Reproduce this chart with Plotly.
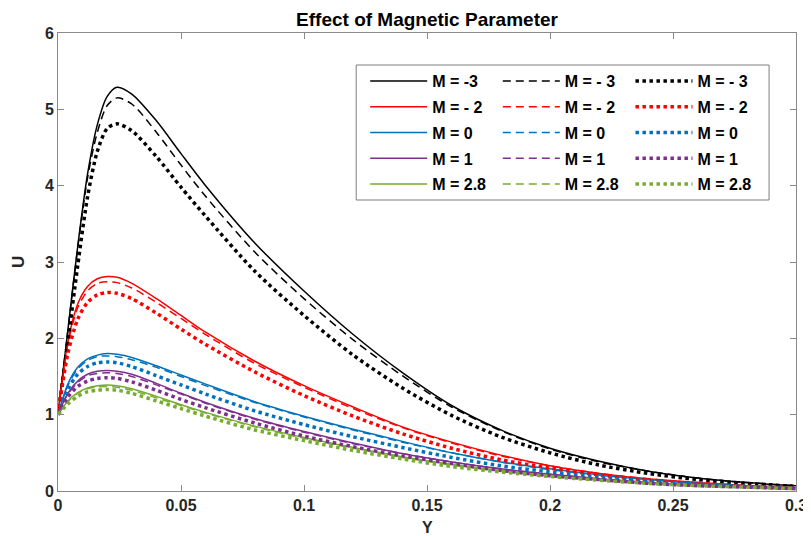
import plotly.graph_objects as go

# x positions (Y) at which the curves were read
Y_POS = [0, 0.004, 0.008, 0.012, 0.016, 0.02, 0.024, 0.03, 0.04, 0.05, 0.06, 0.08, 0.1,
         0.12, 0.14, 0.16, 0.18, 0.2, 0.22, 0.24, 0.26, 0.28, 0.3]

# M = -3
k_solid = [1, 2.1, 3.2, 4.15, 4.8, 5.17, 5.29, 5.2, 4.85, 4.42, 4.0, 3.25, 2.62, 2.05, 1.55, 1.12, 0.8, 0.56, 0.39, 0.26, 0.17, 0.11, 0.07]
k_dash = [1, 2.1, 3.18, 4.1, 4.7, 5.05, 5.15, 5.07, 4.7, 4.27, 3.86, 3.13, 2.52, 1.98, 1.51, 1.1, 0.79, 0.55, 0.38, 0.26, 0.17, 0.11, 0.07]
k_dot = [1, 1.95, 2.95, 3.85, 4.45, 4.75, 4.81, 4.72, 4.38, 3.98, 3.6, 2.88, 2.3, 1.78, 1.35, 0.99, 0.71, 0.5, 0.34, 0.23, 0.15, 0.1, 0.06]
# M = -2
r_solid = [1, 1.95, 2.45, 2.68, 2.78, 2.81, 2.8, 2.72, 2.52, 2.3, 2.08, 1.7, 1.38, 1.1, 0.84, 0.64, 0.47, 0.33, 0.23, 0.16, 0.11, 0.07, 0.045]
r_dash = [1, 1.92, 2.4, 2.62, 2.72, 2.74, 2.73, 2.66, 2.47, 2.26, 2.05, 1.67, 1.36, 1.08, 0.83, 0.63, 0.46, 0.33, 0.23, 0.16, 0.11, 0.07, 0.045]
r_dot = [1, 1.8, 2.25, 2.47, 2.57, 2.6, 2.59, 2.52, 2.33, 2.12, 1.92, 1.56, 1.25, 0.98, 0.75, 0.56, 0.41, 0.3, 0.21, 0.14, 0.1, 0.06, 0.04]
# M = 0
b_solid = [1, 1.4, 1.62, 1.73, 1.78, 1.8, 1.79, 1.75, 1.64, 1.52, 1.4, 1.17, 0.98, 0.81, 0.65, 0.5, 0.38, 0.29, 0.21, 0.15, 0.1, 0.065, 0.04]
b_dash = [1, 1.38, 1.6, 1.71, 1.76, 1.77, 1.76, 1.72, 1.62, 1.5, 1.38, 1.16, 0.97, 0.8, 0.64, 0.5, 0.38, 0.28, 0.21, 0.15, 0.1, 0.065, 0.04]
b_dot = [1, 1.33, 1.53, 1.63, 1.68, 1.69, 1.68, 1.63, 1.51, 1.39, 1.27, 1.05, 0.87, 0.71, 0.57, 0.44, 0.33, 0.25, 0.18, 0.13, 0.09, 0.06, 0.035]
# M = 1
p_solid = [1, 1.28, 1.44, 1.53, 1.57, 1.58, 1.57, 1.53, 1.41, 1.28, 1.16, 0.95, 0.78, 0.63, 0.49, 0.38, 0.29, 0.22, 0.16, 0.11, 0.08, 0.05, 0.03]
p_dash = [1, 1.27, 1.42, 1.51, 1.54, 1.55, 1.54, 1.5, 1.39, 1.27, 1.15, 0.94, 0.77, 0.62, 0.49, 0.38, 0.29, 0.22, 0.16, 0.11, 0.08, 0.05, 0.03]
p_dot = [1, 1.23, 1.37, 1.44, 1.475, 1.485, 1.475, 1.43, 1.32, 1.2, 1.09, 0.89, 0.72, 0.58, 0.46, 0.36, 0.27, 0.2, 0.15, 0.1, 0.07, 0.05, 0.03]
# M = 2.8
g_solid = [1, 1.18, 1.29, 1.35, 1.38, 1.39, 1.38, 1.34, 1.24, 1.13, 1.03, 0.85, 0.7, 0.57, 0.45, 0.35, 0.27, 0.2, 0.15, 0.1, 0.07, 0.05, 0.03]
g_dash = [1, 1.17, 1.28, 1.34, 1.365, 1.37, 1.36, 1.32, 1.22, 1.12, 1.02, 0.84, 0.69, 0.56, 0.44, 0.34, 0.26, 0.2, 0.14, 0.1, 0.07, 0.05, 0.03]
g_dot = [1, 1.14, 1.24, 1.3, 1.32, 1.33, 1.32, 1.28, 1.18, 1.08, 0.98, 0.8, 0.66, 0.53, 0.42, 0.32, 0.25, 0.19, 0.14, 0.1, 0.07, 0.05, 0.03]

X_TICKS = [0, 0.05, 0.1, 0.15, 0.2, 0.25, 0.3]
X_TICK_TEXT = ["0", "0.05", "0.1", "0.15", "0.2", "0.25", "0.3"]
Y_TICKS = [0, 1, 2, 3, 4, 5, 6]

COLORS = ["#000000", "#FF0000", "#0072BD", "#7E2F8E", "#77AC30"]
SOLID = [k_solid, r_solid, b_solid, p_solid, g_solid]
DASHED = [k_dash, r_dash, b_dash, p_dash, g_dash]
DOTTED = [k_dot, r_dot, b_dot, p_dot, g_dot]
LABELS_SOLID = ["M = -3", "M = - 2", "M = 0", "M = 1", "M = 2.8"]
LABELS_OTHER = ["M = - 3", "M = - 2", "M = 0", "M = 1", "M = 2.8"]

FONT = "Liberation Sans, Arial, sans-serif"
TXT = "#262626"

fig = go.Figure()
for i in range(5):
    fig.add_trace(go.Scatter(x=Y_POS, y=SOLID[i], mode="lines", name=LABELS_SOLID[i],
                             line=dict(color=COLORS[i], width=1.5, shape="spline", smoothing=0.8),
                             legend="legend", legendgroup="s%d" % i))
for i in range(5):
    fig.add_trace(go.Scatter(x=Y_POS, y=DASHED[i], mode="lines", name=LABELS_OTHER[i],
                             line=dict(color=COLORS[i], width=1.5, dash="8px,5px", shape="spline", smoothing=0.8),
                             legend="legend2", legendgroup="d%d" % i))
for i in range(5):
    fig.add_trace(go.Scatter(x=Y_POS, y=DOTTED[i], mode="lines", name=LABELS_OTHER[i],
                             line=dict(color=COLORS[i], width=3.5, dash="dot", shape="spline", smoothing=0.8),
                             legend="legend3", legendgroup="o%d" % i))

OFF = 8  # page body margin
L, R, T, B = 50, 21, 25, 53
W, H = 811, 536
pw, ph = W - L - R, H - T - B

def px_x(p):
    return (p - OFF - L) / pw

def px_y(p):
    return 1 - (p - OFF - T) / ph

leg_common = dict(bgcolor="rgba(0,0,0,0)", borderwidth=0, xanchor="left", yanchor="top",
                  font=dict(family=FONT, size=16, color="#000000", weight="bold"),
                  tracegroupgap=2, itemwidth=57, itemclick=False)
fig.update_layout(
    width=W, height=H,
    margin=dict(l=L, r=R, t=T, b=B),
    paper_bgcolor="white", plot_bgcolor="white",
    title=dict(text="Effect of Magnetic Parameter", x=0.5, xref="paper", xanchor="center",
               y=1 - (19.5 - OFF) / H, yref="container", yanchor="middle",
               font=dict(family=FONT, size=19, color="#000000", weight="bold")),
    xaxis=dict(range=[0, 0.3], tickvals=X_TICKS, ticktext=X_TICK_TEXT, ticks="inside", ticklen=6,
               tickcolor="#8a8a8a", showline=True, linecolor="#8a8a8a", linewidth=1, mirror="ticks",
               showgrid=False, zeroline=False,
               tickfont=dict(family=FONT, size=16, color=TXT, weight="bold")),
    yaxis=dict(range=[0, 6], tickvals=Y_TICKS, ticks="inside", ticklen=6,
               tickcolor="#8a8a8a", showline=True, linecolor="#8a8a8a", linewidth=1, mirror="ticks",
               showgrid=False, zeroline=False,
               tickfont=dict(family=FONT, size=16, color=TXT, weight="bold")),
    legend=dict(x=px_x(366), y=px_y(64), **leg_common),
    legend2=dict(x=px_x(499), y=px_y(64), **leg_common),
    legend3=dict(x=px_x(632), y=px_y(64), **leg_common),
    shapes=[dict(type="rect", xref="paper", yref="paper", x0=px_x(357), x1=px_x(771),
                 y0=px_y(200), y1=px_y(65), line=dict(color="#7f7f7f", width=1), layer="above")],
    annotations=[
        dict(text="U", xref="paper", yref="paper", x=0, y=0.5, xshift=-40, showarrow=False,
             textangle=-90, xanchor="center", yanchor="middle",
             font=dict(family=FONT, size=17, color=TXT, weight="bold")),
        dict(text="Y", xref="paper", yref="paper", x=0.5, y=0, yshift=-36, showarrow=False,
             xanchor="center", yanchor="middle",
             font=dict(family=FONT, size=16, color=TXT, weight="bold")),
    ],
)

fig.write_html("out.html")
